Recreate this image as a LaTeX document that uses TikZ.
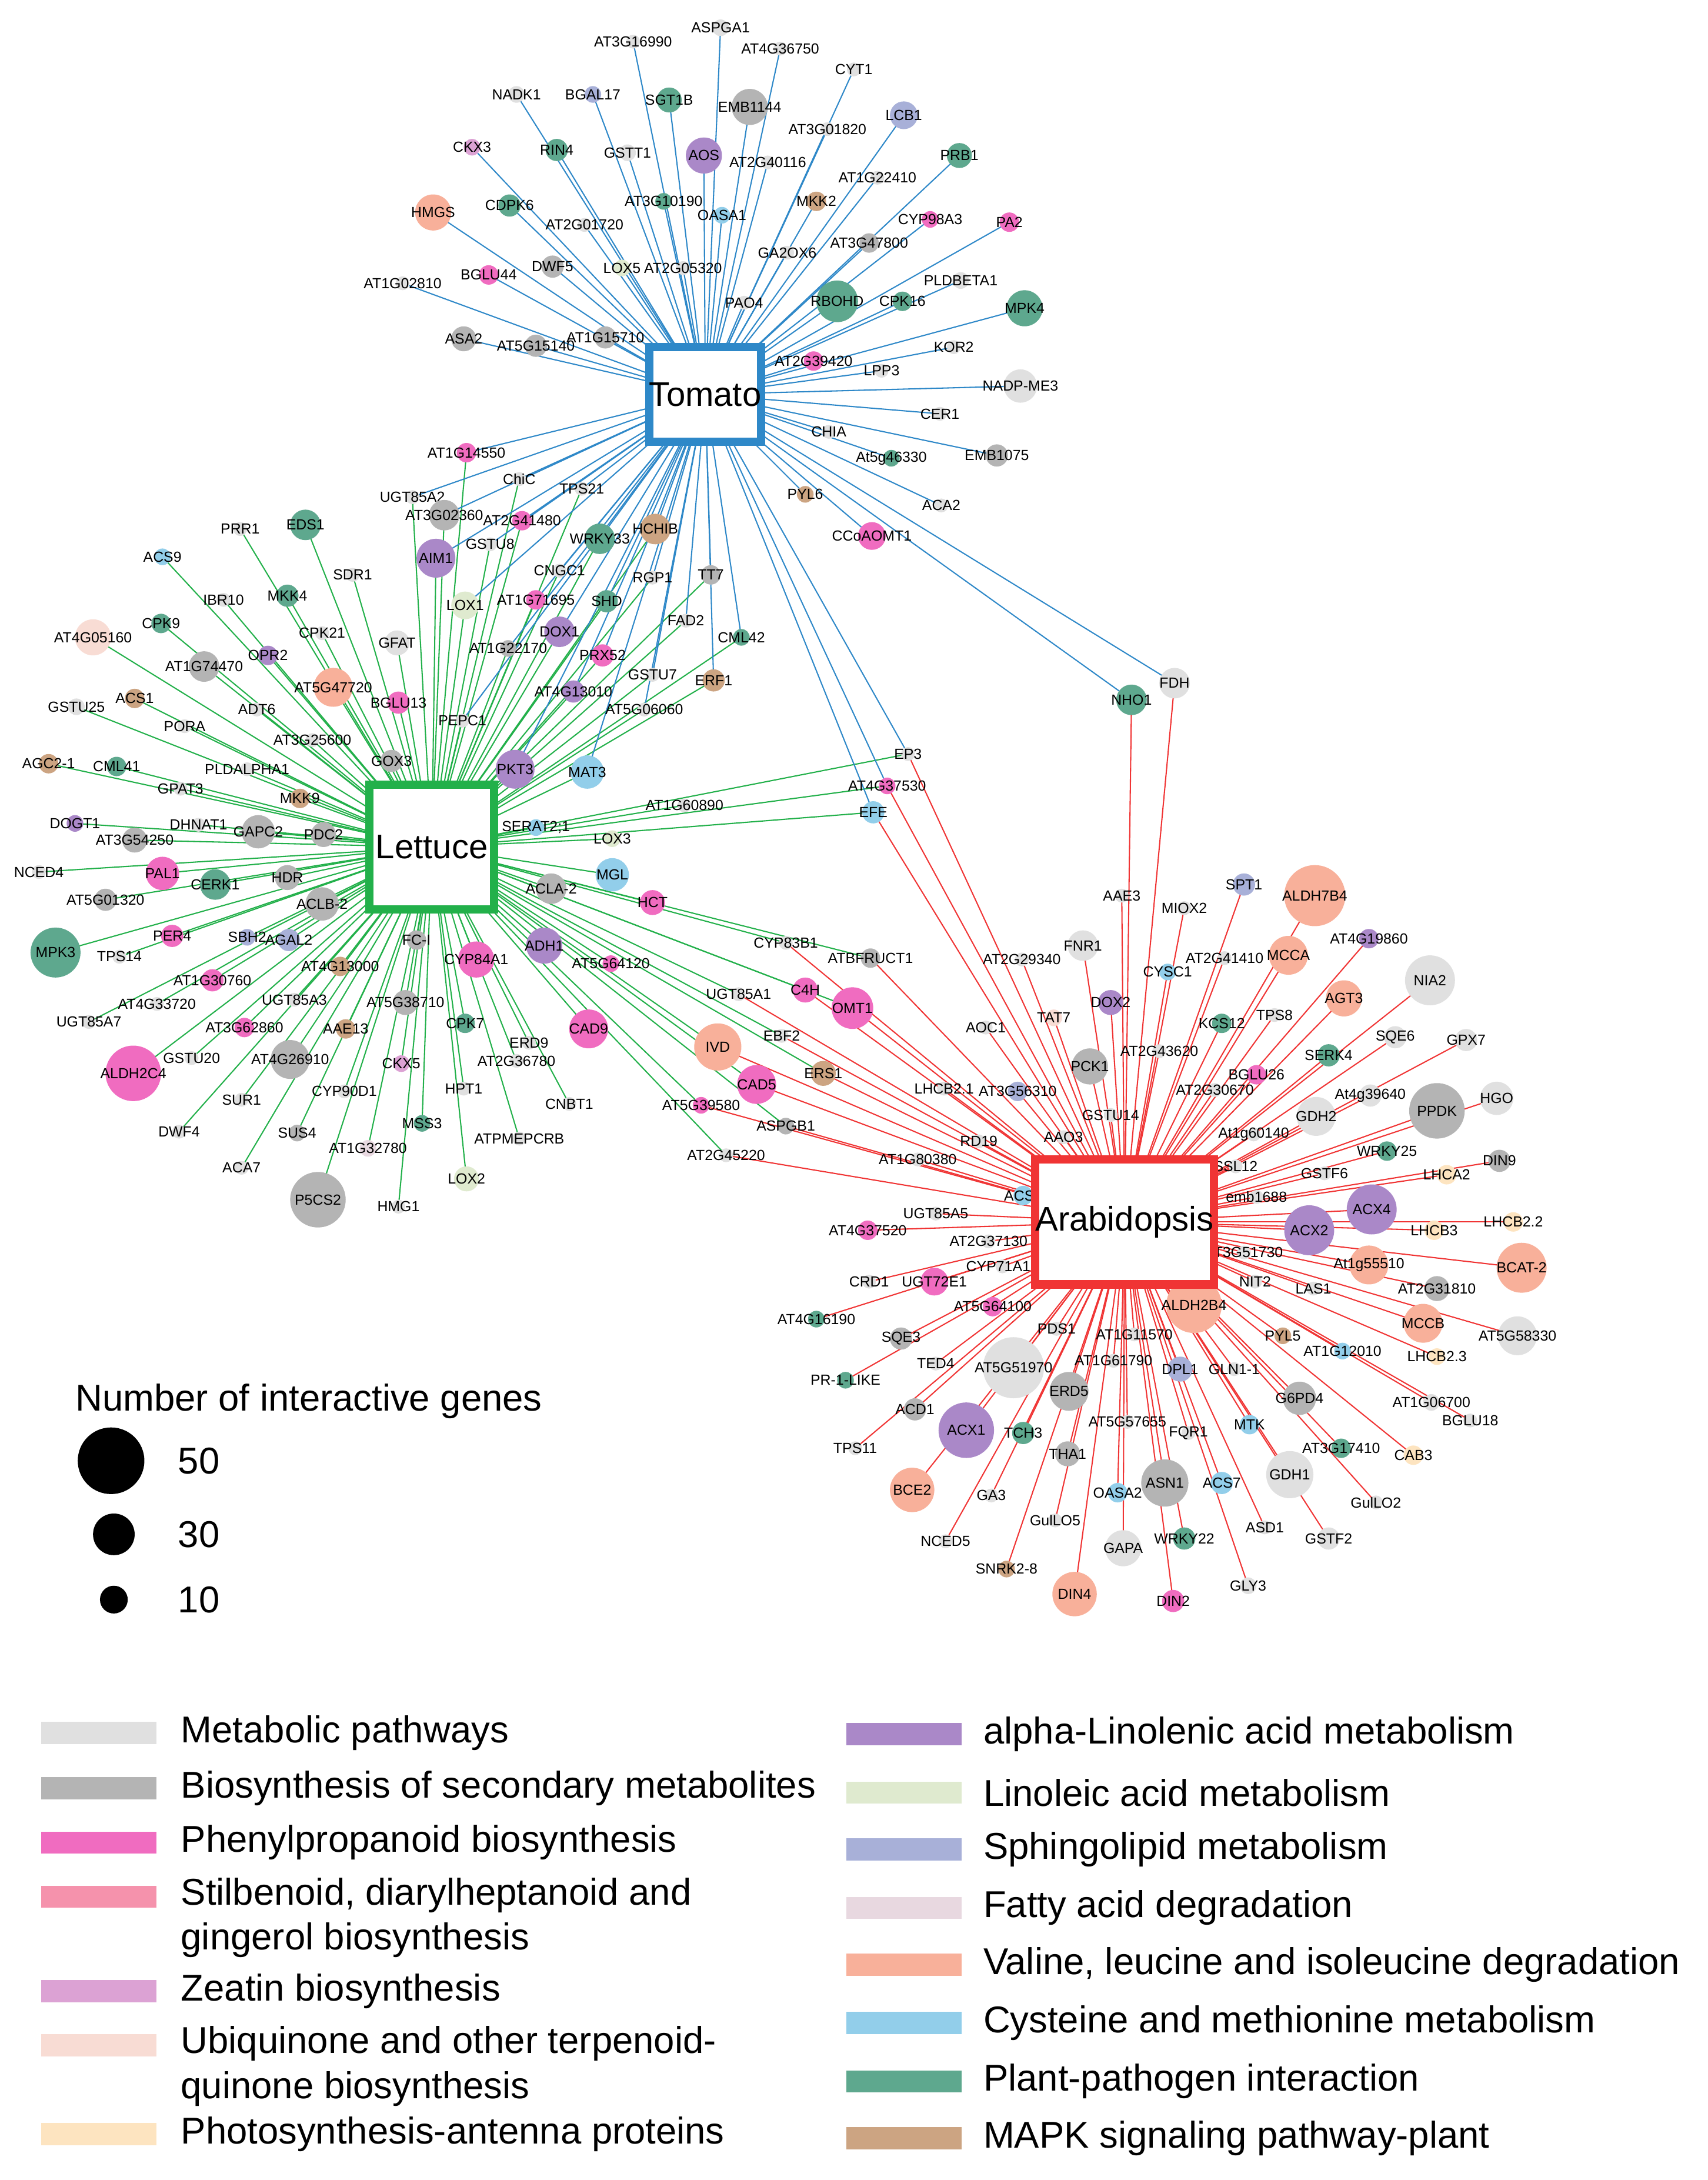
\documentclass[tikz,border=0pt]{standalone}
\usepackage{fontspec}
\setmainfont{Liberation Sans}
\definecolor{met}{HTML}{E0E0E0}
\definecolor{bio}{HTML}{B4B4B4}
\definecolor{phe}{HTML}{F06CC0}
\definecolor{sti}{HTML}{F592AC}
\definecolor{zea}{HTML}{DCA2D4}
\definecolor{ubi}{HTML}{F8DCD4}
\definecolor{pho}{HTML}{FDE4C0}
\definecolor{ala}{HTML}{AA88C8}
\definecolor{lin}{HTML}{DFEACF}
\definecolor{sph}{HTML}{A8B0D8}
\definecolor{fat}{HTML}{E8D8E0}
\definecolor{val}{HTML}{F8B09A}
\definecolor{cys}{HTML}{92CEEA}
\definecolor{ppi}{HTML}{5EA88E}
\definecolor{mapk}{HTML}{CCA482}
\definecolor{cT}{HTML}{2E88C8}
\definecolor{cL}{HTML}{22B04A}
\definecolor{cA}{HTML}{F03434}
\newcounter{gc}
\tikzset{
 gn/.style={circle,inner sep=0pt,draw=none},
 lab/.style={inner sep=0pt,font=\fontsize{6}{7}\selectfont},
 eT/.style={cT,line width=0.5pt},
 eL/.style={cL,line width=0.5pt},
 eA/.style={cA,line width=0.5pt},
 hub/.style={draw,line width=3.4pt,fill=white,minimum size=1.8cm,inner sep=0pt,font=\fontsize{14}{16}\selectfont},
 leg/.style={anchor=west,inner sep=0pt,font=\fontsize{15.3}{18.5}\selectfont,align=left},
 bar/.style={minimum width=1.66cm,minimum height=0.32cm,inner sep=0pt,draw=none}
}
\newcommand\Gedge[6]{\stepcounter{gc}%
 \coordinate (g\arabic{gc}) at (#2,#3);%
 \foreach \h in {#1}{\draw[e\h] (\h) -- (g\arabic{gc});}}
\newcommand\Gnode[6]{\stepcounter{gc}%
 \node[gn,minimum size=#4*0.04cm,fill=#5] (g\arabic{gc}c) at (g\arabic{gc}) {};%
 \node[lab] (g\arabic{gc}t) at (g\arabic{gc}c) {#6};}
\newcommand\genelist{%
% Tomato only
\G{T}{519}{20}{6}{met}{ASPGA1}
\G{T}{456}{30}{5}{met}{AT3G16990}
\G{T}{562}{35}{5}{met}{AT4G36750}
\G{T}{615}{50}{5}{met}{CYT1}
\G{T}{372}{68}{6}{met}{NADK1}
\G{T}{427}{68}{6}{sph}{BGAL17}
\G{T}{482}{72}{9}{ppi}{SGT1B}
\G{T}{540}{77}{13}{bio}{EMB1144}
\G{T}{651}{83}{10}{sph}{LCB1}
\G{T}{596}{93}{5}{met}{AT3G01820}
\G{T}{401}{108}{8}{ppi}{RIN4}
\G{T}{340}{106}{6}{zea}{CKX3}
\G{T}{507}{112}{13}{ala}{AOS}
\G{T}{553}{117}{5}{met}{AT2G40116}
\G{T}{452}{110}{6}{met}{GSTT1}
\G{T}{691}{112}{9}{ppi}{PRB1}
\G{T}{632}{128}{5}{met}{AT1G22410}
\G{T}{367}{148}{8}{ppi}{CDPK6}
\G{T}{478}{145}{6}{ppi}{AT3G10190}
\G{T}{520}{155}{6}{cys}{OASA1}
\G{T}{588}{145}{7}{mapk}{MKK2}
\G{T}{670}{158}{6}{phe}{CYP98A3}
\G{T}{727}{160}{7}{phe}{PA2}
\G{T}{312}{153}{13}{val}{HMGS}
\G{T}{421}{162}{5}{met}{AT2G01720}
\G{T}{626}{175}{7}{bio}{AT3G47800}
\G{T}{398}{192}{8}{bio}{DWF5}
\G{T}{448}{193}{6}{lin}{LOX5}
\G{T}{492}{193}{5}{met}{AT2G05320}
\G{T}{567}{182}{5}{met}{GA2OX6}
\G{T}{352}{198}{7}{phe}{BGLU44}
\G{T}{692}{202}{6}{met}{PLDBETA1}
\G{T}{290}{204}{5}{met}{AT1G02810}
\G{T}{603}{217}{15}{ppi}{RBOHD}
\G{T}{650}{217}{7}{ppi}{CPK16}
\G{T}{738}{222}{13}{ppi}{MPK4}
\G{T}{536}{218}{5}{met}{PAO4}
\G{T}{334}{244}{9}{bio}{ASA2}
\G{T}{386}{249}{8}{bio}{AT5G15140}
\G{T}{436}{243}{8}{bio}{AT1G15710}
\G{T}{687}{250}{5}{met}{KOR2}
\G{T}{586}{260}{7}{phe}{AT2G39420}
\G{T}{635}{267}{5}{met}{LPP3}
\G{T}{735}{278}{12}{met}{NADP-ME3}
\G{T}{677}{298}{5}{met}{CER1}
\G{T}{597}{311}{5}{met}{CHIA}
\G{T}{642}{330}{6}{ppi}{At5g46330}
\G{T}{718}{328}{8}{bio}{EMB1075}
\G{T}{678}{364}{5}{met}{ACA2}
\G{T}{580}{356}{6}{mapk}{PYL6}
\G{T}{628}{386}{10}{phe}{CCoAOMT1}
% Tomato + Lettuce
\G{T,L}{336}{326}{7}{phe}{AT1G14550}
\G{T,L}{374}{345}{5}{met}{ChiC}
\G{T,L}{297}{358}{5}{met}{UGT85A2}
\G{T,L}{419}{352}{5}{met}{TPS21}
\G{T,L}{320}{371}{11}{bio}{AT3G02360}
\G{T,L}{376}{375}{7}{phe}{AT2G41480}
\G{T,L}{432}{388}{11}{ppi}{WRKY33}
\G{T,L}{472}{381}{11}{mapk}{HCHIB}
\G{T,L}{353}{392}{5}{met}{GSTU8}
\G{T,L}{314}{402}{14}{ala}{AIM1}
\G{T,L}{470}{416}{5}{met}{RGP1}
\G{T,L}{512}{414}{7}{bio}{TT7}
\G{T,L}{335}{436}{10}{lin}{LOX1}
\G{T,L}{386}{432}{7}{phe}{AT1G71695}
\G{T,L}{403}{411}{5}{met}{CNGC1}
\G{T,L}{437}{433}{8}{ppi}{SHD}
\G{T,L}{494}{447}{5}{met}{FAD2}
\G{T,L}{403}{455}{11}{ala}{DOX1}
\G{T,L}{434}{472}{8}{phe}{PRX52}
\G{T,L}{534}{459}{6}{ppi}{CML42}
\G{T,L}{366}{467}{6}{bio}{AT1G22170}
\G{T,L}{470}{486}{5}{met}{GSTU7}
\G{T,L}{514}{490}{8}{mapk}{ERF1}
\G{T,L}{413}{498}{8}{ala}{AT4G13010}
\G{T,L}{464}{511}{5}{met}{AT5G06060}
\G{T,L}{333}{519}{5}{met}{PEPC1}
\G{T,L}{371}{554}{14}{ala}{PKT3}
\G{T,L}{423}{556}{12}{cys}{MAT3}
% Tomato + Lettuce + Arabidopsis
\G{T,L,A}{654}{543}{5}{met}{EP3}
\G{T,L,A}{639}{566}{6}{phe}{AT4G37530}
\G{T,L,A}{629}{585}{8}{cys}{EFE}
% Tomato + Arabidopsis
\G{T,A}{815}{504}{11}{ppi}{NHO1}
\G{T,A}{846}{492}{11}{met}{FDH}
% Lettuce only
\G{L}{173}{381}{5}{met}{PRR1}
\G{L}{220}{378}{11}{ppi}{EDS1}
\G{L}{117}{401}{6}{cys}{ACS9}
\G{L}{254}{414}{5}{met}{SDR1}
\G{L}{161}{432}{5}{met}{IBR10}
\G{L}{207}{429}{8}{ppi}{MKK4}
\G{L}{116}{449}{7}{ppi}{CPK9}
\G{L}{232}{456}{5}{met}{CPK21}
\G{L}{67}{459}{13}{ubi}{AT4G05160}
\G{L}{193}{472}{7}{ala}{OPR2}
\G{L}{147}{480}{11}{bio}{AT1G74470}
\G{L}{286}{463}{9}{met}{GFAT}
\G{L}{240}{495}{14}{val}{AT5G47720}
\G{L}{185}{511}{5}{met}{ADT6}
\G{L}{55}{509}{6}{met}{GSTU25}
\G{L}{97}{503}{7}{mapk}{ACS1}
\G{L}{287}{506}{8}{phe}{BGLU13}
\G{L}{133}{523}{5}{met}{PORA}
\G{L}{225}{533}{5}{met}{AT3G25600}
\G{L}{35}{550}{7}{mapk}{AGC2-1}
\G{L}{84}{552}{7}{ppi}{CML41}
\G{L}{282}{548}{8}{bio}{GOX3}
\G{L}{178}{554}{5}{met}{PLDALPHA1}
\G{L}{130}{568}{5}{met}{GPAT3}
\G{L}{216}{575}{7}{mapk}{MKK9}
\G{L}{54}{593}{6}{ala}{DOGT1}
\G{L}{143}{594}{5}{met}{DHNAT1}
\G{L}{186}{599}{12}{bio}{GAPC2}
\G{L}{233}{601}{9}{bio}{PDC2}
\G{L}{97}{605}{9}{bio}{AT3G54250}
\G{L}{117}{629}{12}{phe}{PAL1}
\G{L}{28}{628}{5}{met}{NCED4}
\G{L}{207}{632}{9}{bio}{HDR}
\G{L}{155}{637}{11}{ppi}{CERK1}
\G{L}{76}{648}{8}{bio}{AT5G01320}
\G{L}{232}{651}{12}{bio}{ACLB-2}
\G{L}{178}{675}{6}{sph}{SBH2}
\G{L}{124}{674}{8}{phe}{PER4}
\G{L}{208}{677}{8}{sph}{AGAL2}
\G{L}{40}{686}{18}{ppi}{MPK3}
\G{L}{86}{689}{5}{met}{TPS14}
\G{L}{245}{696}{7}{mapk}{AT4G13000}
\G{L}{153}{706}{8}{phe}{AT1G30760}
\G{L}{113}{723}{5}{met}{AT4G33720}
\G{L}{212}{720}{5}{met}{UGT85A3}
\G{L}{64}{736}{5}{met}{UGT85A7}
\G{L}{176}{740}{7}{phe}{AT3G62860}
\G{L}{249}{741}{7}{mapk}{AAE13}
\G{L}{138}{762}{5}{met}{GSTU20}
\G{L}{209}{763}{14}{bio}{AT4G26910}
\G{L}{96}{773}{20}{phe}{ALDH2C4}
\G{L}{289}{766}{6}{zea}{CKX5}
\G{L}{248}{786}{5}{met}{CYP90D1}
\G{L}{174}{792}{5}{met}{SUR1}
\G{L}{129}{815}{5}{met}{DWF4}
\G{L}{214}{816}{6}{bio}{SUS4}
\G{L}{174}{841}{5}{met}{ACA7}
\G{L}{265}{827}{6}{fat}{AT1G32780}
\G{L}{229}{864}{20}{bio}{P5CS2}
\G{L}{287}{869}{5}{met}{HMG1}
\G{L}{300}{677}{7}{bio}{FC-I}
\G{L}{292}{722}{9}{bio}{AT5G38710}
\G{L}{335}{737}{7}{ppi}{CPK7}
\G{L}{304}{809}{6}{ppi}{MSS3}
\G{L}{334}{784}{5}{met}{HPT1}
\G{L}{374}{820}{5}{met}{ATPMEPCRB}
\G{L}{336}{849}{9}{lin}{LOX2}
\G{L}{343}{691}{13}{phe}{CYP84A1}
\G{L}{381}{751}{5}{met}{ERD9}
\G{L}{372}{764}{5}{met}{AT2G36780}
\G{L}{410}{795}{5}{met}{CNBT1}
\G{L}{424}{741}{14}{phe}{CAD9}
\G{L}{392}{681}{13}{ala}{ADH1}
\G{L}{397}{640}{11}{bio}{ACLA-2}
\G{L}{440}{694}{6}{phe}{AT5G64120}
\G{L}{386}{596}{6}{cys}{SERAT2;1}
\G{L}{441}{604}{6}{lin}{LOX3}
\G{L}{441}{630}{12}{cys}{MGL}
\G{L}{470}{650}{9}{phe}{HCT}
\G{L}{493}{580}{5}{met}{AT1G60890}
% Lettuce + Arabidopsis
\G{L,A}{566}{679}{5}{met}{CYP83B1}
\G{L,A}{627}{690}{7}{bio}{ATBFRUCT1}
\G{L,A}{532}{716}{5}{met}{UGT85A1}
\G{L,A}{580}{713}{9}{phe}{C4H}
\G{L,A}{614}{726}{15}{phe}{OMT1}
\G{L,A}{563}{746}{5}{met}{EBF2}
\G{L,A}{517}{754}{17}{val}{IVD}
\G{L,A}{593}{773}{9}{mapk}{ERS1}
\G{L,A}{545}{781}{14}{phe}{CAD5}
\G{L,A}{505}{796}{6}{phe}{AT5G39580}
\G{L,A}{566}{811}{6}{bio}{ASPGB1}
\G{L,A}{523}{832}{5}{met}{AT2G45220}
% Arabidopsis only
\G{A}{808}{645}{5}{met}{AAE3}
\G{A}{896}{637}{8}{sph}{SPT1}
\G{A}{947}{645}{22}{val}{ALDH7B4}
\G{A}{853}{654}{5}{met}{MIOX2}
\G{A}{780}{681}{11}{met}{FNR1}
\G{A}{986}{676}{7}{ala}{AT4G19860}
\G{A}{841}{700}{6}{cys}{CYSC1}
\G{A}{882}{690}{5}{met}{AT2G41410}
\G{A}{928}{688}{14}{val}{MCCA}
\G{A}{1030}{706}{18}{met}{NIA2}
\G{A}{736}{691}{5}{met}{AT2G29340}
\G{A}{800}{722}{9}{ala}{DOX2}
\G{A}{759}{733}{6}{ubi}{TAT7}
\G{A}{968}{719}{13}{val}{AGT3}
\G{A}{918}{731}{5}{met}{TPS8}
\G{A}{880}{737}{7}{ppi}{KCS12}
\G{A}{710}{740}{5}{met}{AOC1}
\G{A}{835}{757}{5}{met}{AT2G43620}
\G{A}{957}{760}{8}{ppi}{SERK4}
\G{A}{1005}{747}{8}{met}{SQE6}
\G{A}{1056}{749}{8}{met}{GPX7}
\G{A}{785}{768}{13}{bio}{PCK1}
\G{A}{733}{786}{7}{sph}{AT3G56310}
\G{A}{680}{784}{5}{met}{LHCB2.1}
\G{A}{905}{774}{7}{phe}{BGLU26}
\G{A}{875}{785}{5}{met}{AT2G30670}
\G{A}{987}{789}{8}{met}{At4g39640}
\G{A}{1035}{800}{20}{bio}{PPDK}
\G{A}{1078}{791}{12}{met}{HGO}
\G{A}{800}{803}{5}{met}{GSTU14}
\G{A}{948}{804}{14}{met}{GDH2}
\G{A}{766}{819}{5}{met}{AAO3}
\G{A}{705}{822}{5}{met}{RD19}
\G{A}{903}{817}{5}{met}{At1g60140}
\G{A}{999}{829}{7}{ppi}{WRKY25}
\G{A}{661}{835}{5}{met}{AT1G80380}
\G{A}{890}{840}{5}{met}{SSL12}
\G{A}{954}{845}{5}{met}{GSTF6}
\G{A}{1042}{846}{7}{pho}{LHCA2}
\G{A}{1080}{836}{8}{bio}{DIN9}
\G{A}{737}{861}{7}{cys}{ACS8}
\G{A}{905}{862}{5}{met}{emb1688}
\G{A}{988}{871}{18}{ala}{ACX4}
\G{A}{674}{874}{5}{met}{UGT85A5}
\G{A}{943}{886}{18}{ala}{ACX2}
\G{A}{1033}{886}{7}{pho}{LHCB3}
\G{A}{1090}{880}{7}{pho}{LHCB2.2}
\G{A}{625}{886}{7}{phe}{AT4G37520}
\G{A}{712}{894}{5}{met}{AT2G37130}
\G{A}{896}{902}{5}{met}{AT3G51730}
\G{A}{986}{911}{14}{val}{At1g55510}
\G{A}{1096}{913}{18}{val}{BCAT-2}
\G{A}{722}{912}{5}{met}{CYP71A18}
\G{A}{626}{923}{5}{met}{CRD1}
\G{A}{673}{923}{10}{phe}{UGT72E1}
\G{A}{904}{923}{5}{met}{NIT2}
\G{A}{946}{928}{5}{met}{LAS1}
\G{A}{1035}{928}{9}{bio}{AT2G31810}
\G{A}{860}{940}{20}{val}{ALDH2B4}
\G{A}{715}{941}{7}{phe}{AT5G64100}
\G{A}{588}{950}{6}{ppi}{AT4G16190}
\G{A}{1025}{953}{14}{val}{MCCB}
\G{A}{761}{957}{5}{met}{PDS1}
\G{A}{817}{961}{5}{met}{AT1G11570}
\G{A}{924}{962}{6}{mapk}{PYL5}
\G{A}{649}{964}{8}{bio}{SQE3}
\G{A}{967}{973}{6}{cys}{AT1G12010}
\G{A}{1035}{977}{6}{pho}{LHCB2.3}
\G{A}{1093}{962}{14}{met}{AT5G58330}
\G{A}{674}{982}{5}{met}{TED4}
\G{A}{730}{985}{22}{met}{AT5G51970}
\G{A}{802}{980}{5}{met}{AT1G61790}
\G{A}{850}{986}{9}{sph}{DPL1}
\G{A}{889}{986}{5}{met}{GLN1-1}
\G{A}{609}{994}{6}{ppi}{PR-1-LIKE}
\G{A}{770}{1002}{14}{bio}{ERD5}
\G{A}{936}{1007}{12}{bio}{G6PD4}
\G{A}{1031}{1010}{6}{met}{AT1G06700}
\G{A}{1059}{1023}{5}{met}{BGLU18}
\G{A}{659}{1015}{8}{bio}{ACD1}
\G{A}{812}{1024}{5}{met}{AT5G57655}
\G{A}{856}{1032}{5}{met}{FQR1}
\G{A}{900}{1026}{7}{cys}{MTK}
\G{A}{696}{1030}{20}{ala}{ACX1}
\G{A}{737}{1032}{8}{ppi}{TCH3}
\G{A}{966}{1043}{7}{ppi}{AT3G17410}
\G{A}{1018}{1048}{7}{pho}{CAB3}
\G{A}{616}{1043}{5}{met}{TPS11}
\G{A}{769}{1047}{9}{bio}{THA1}
\G{A}{929}{1062}{17}{met}{GDH1}
\G{A}{839}{1068}{17}{bio}{ASN1}
\G{A}{880}{1068}{8}{cys}{ACS7}
\G{A}{805}{1075}{7}{cys}{OASA2}
\G{A}{714}{1077}{5}{met}{GA3}
\G{A}{657}{1073}{16}{val}{BCE2}
\G{A}{991}{1082}{5}{met}{GulLO2}
\G{A}{911}{1100}{5}{met}{ASD1}
\G{A}{760}{1095}{5}{met}{GulLO5}
\G{A}{809}{1115}{13}{met}{GAPA}
\G{A}{853}{1108}{8}{ppi}{WRKY22}
\G{A}{681}{1110}{5}{met}{NCED5}
\G{A}{957}{1108}{8}{met}{GSTF2}
\G{A}{725}{1130}{6}{mapk}{SNRK2-8}
\G{A}{774}{1148}{16}{val}{DIN4}
\G{A}{899}{1142}{6}{met}{GLY3}
\G{A}{845}{1153}{8}{phe}{DIN2}
}
\begin{document}
\begin{tikzpicture}[x=0.02cm,y=-0.02cm]
\useasboundingbox (0,0) rectangle (1230,1570);
\coordinate (T) at (508,284);
\coordinate (L) at (311,610);
\coordinate (A) at (810,880);
\setcounter{gc}{0}\let\G\Gedge \genelist
\setcounter{gc}{0}\let\G\Gnode \genelist
\node[hub,draw=cT,minimum size=1.36cm] (Tb) at (T) {Tomato};
\node[hub,draw=cL] (Lb) at (L) {Lettuce};
\node[hub,draw=cA] (Ab) at (A) {Arabidopsis};
% size legend
\node[leg] (st) at (54,1009) {Number of interactive genes};
\node[gn,fill=black,minimum size=0.96cm] (s50) at (80,1052) {};
\node[gn,fill=black,minimum size=0.6cm] (s30) at (82,1105) {};
\node[gn,fill=black,minimum size=0.4cm] (s10) at (82,1152) {};
\node[leg] (s50t) at (128,1052) {50};
\node[leg] (s30t) at (128,1105) {30};
\node[leg] (s10t) at (128,1152) {10};
% colour legend
\node[bar,fill=met] (b1) at (71,1248) {}; \node[leg] at (130,1248) {Metabolic pathways};
\node[bar,fill=bio] (b2) at (71,1288) {}; \node[leg] at (130,1288) {Biosynthesis of secondary metabolites};
\node[bar,fill=phe] (b3) at (71,1327) {}; \node[leg] at (130,1327) {Phenylpropanoid biosynthesis};
\node[bar,fill=sti] (b4) at (71,1366) {}; \node[leg,anchor=north west] at (130,1352) {Stilbenoid, diarylheptanoid and\\gingerol biosynthesis};
\node[bar,fill=zea] (b5) at (71,1434) {}; \node[leg] at (130,1434) {Zeatin biosynthesis};
\node[bar,fill=ubi] (b6) at (71,1473) {}; \node[leg,anchor=north west] at (130,1459) {Ubiquinone and other terpenoid-\\quinone biosynthesis};
\node[bar,fill=pho] (b7) at (71,1537) {}; \node[leg] at (130,1537) {Photosynthesis-antenna proteins};
\node[bar,fill=ala] (c1) at (651,1249) {}; \node[leg] at (708,1249) {alpha-Linolenic acid metabolism};
\node[bar,fill=lin] (c2) at (651,1291) {}; \node[leg] at (708,1291) {Linoleic acid metabolism};
\node[bar,fill=sph] (c3) at (651,1332) {}; \node[leg] at (708,1332) {Sphingolipid metabolism};
\node[bar,fill=fat] (c4) at (651,1374) {}; \node[leg] at (708,1374) {Fatty acid degradation};
\node[bar,fill=val] (c5) at (651,1415) {}; \node[leg] at (708,1415) {Valine, leucine and isoleucine degradation};
\node[bar,fill=cys] (c6) at (651,1457) {}; \node[leg] at (708,1457) {Cysteine and methionine metabolism};
\node[bar,fill=ppi] (c7) at (651,1499) {}; \node[leg] at (708,1499) {Plant-pathogen interaction};
\node[bar,fill=mapk] (c8) at (651,1540) {}; \node[leg] at (708,1540) {MAPK signaling pathway-plant};
\end{tikzpicture}
\end{document}
